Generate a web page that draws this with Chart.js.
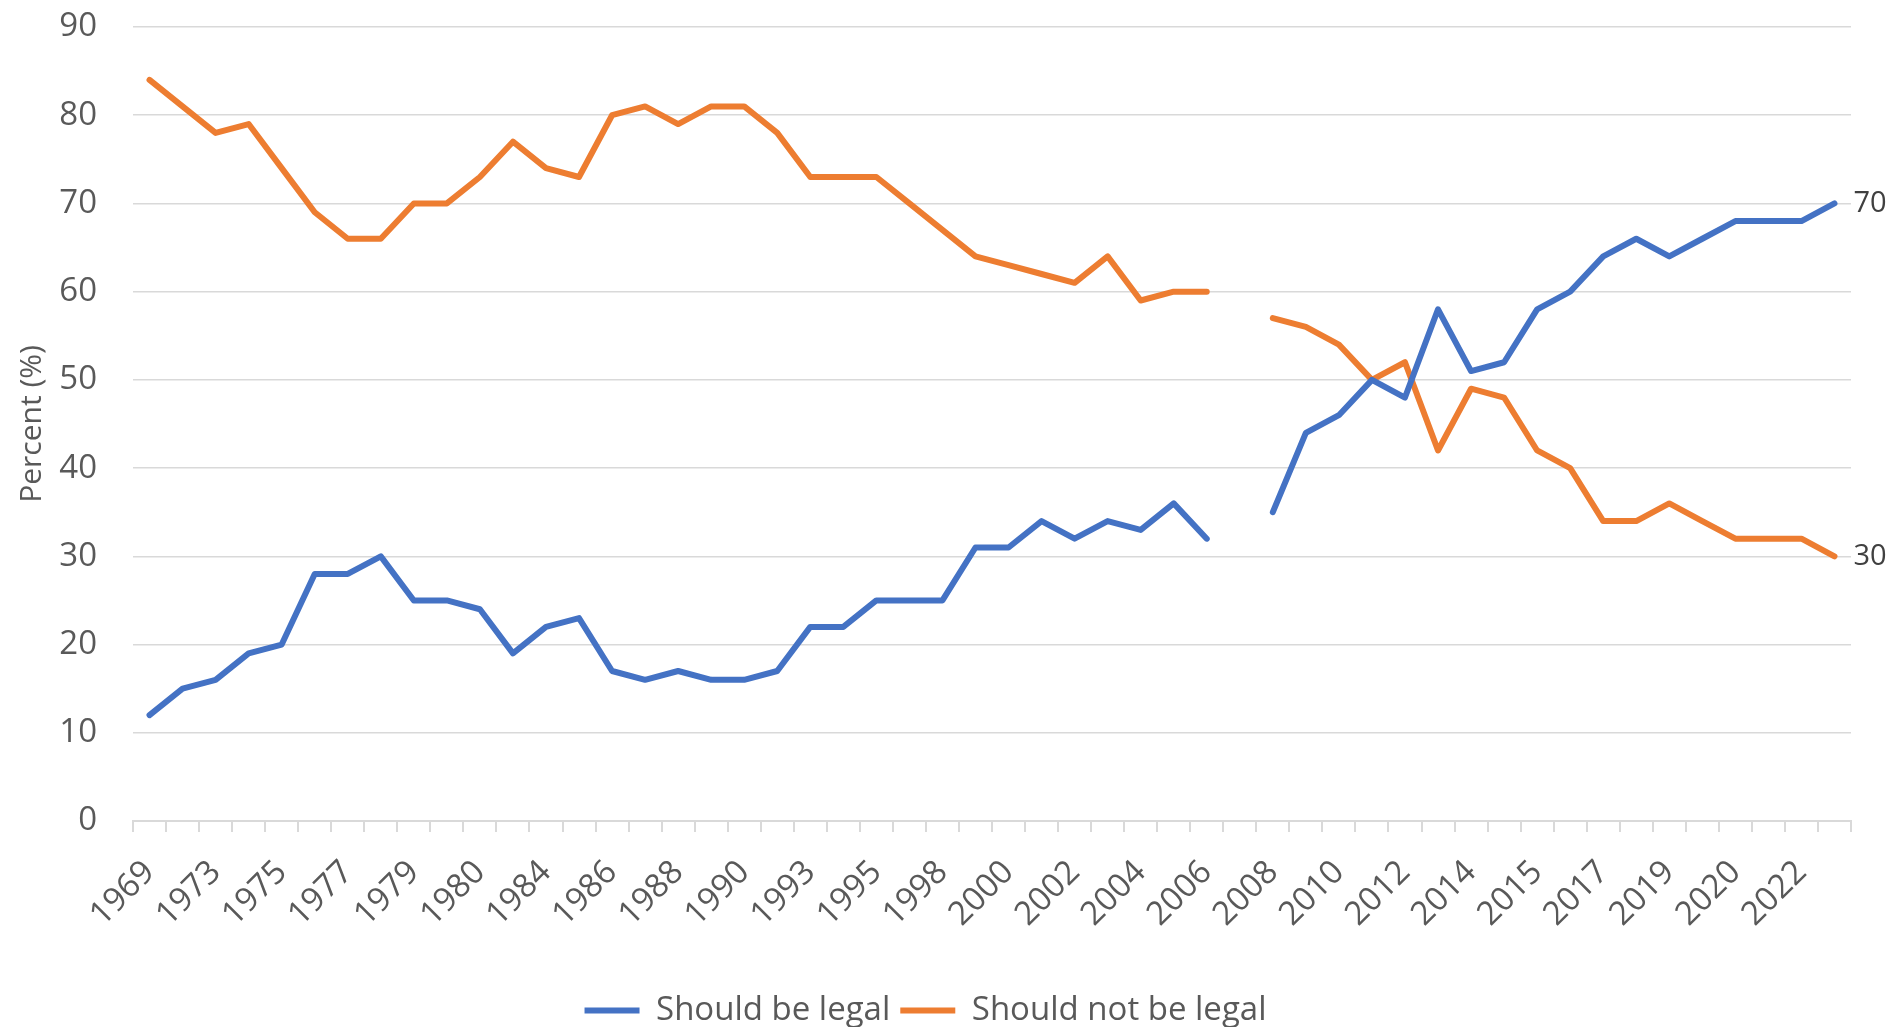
<!DOCTYPE html>
<html>
<head>
<meta charset="utf-8">
<script src="https://cdn.jsdelivr.net/npm/chart.js@4.4.1/dist/chart.umd.min.js"></script>
<style>
  html, body { margin: 0; padding: 0; background: #fff; overflow: hidden; }
  canvas { display: block; }
</style>
</head>
<body>
<canvas id="chart-legal" width="1895" height="1050"></canvas>
<script>
  // survey years (only every other one is labelled on the axis)
  var YEARS = [
    '1969', '1972', '1973', '1974', '1975', '1976', '1977', '1978', '1979', '1980',
    '1980', '1983', '1984', '1985', '1986', '1987', '1988', '1989', '1990', '1991',
    '1993', '1994', '1995', '1996', '1998', '1999', '2000', '2001', '2002', '2003',
    '2004', '2005', '2006', '2007', '2008', '2009', '2010', '2011', '2012', '2013',
    '2014', '2014', '2015', '2016', '2017', '2018', '2019', '2019', '2020', '2021',
    '2022', '2023'
  ];

  var SHOULD_BE_LEGAL = [
    12, 15, 16, 19, 20, 28, 28, 30, 25, 25,
    24, 19, 22, 23, 17, 16, 17, 16, 16, 17,
    22, 22, 25, 25, 25, 31, 31, 34, 32, 34,
    33, 36, 32, null, 35, 44, 46, 50, 48, 58,
    51, 52, 58, 60, 64, 66, 64, 66, 68, 68,
    68, 70
  ];

  var SHOULD_NOT_BE_LEGAL = [
    84, 81, 78, 79, 74, 69, 66, 66, 70, 70,
    73, 77, 74, 73, 80, 81, 79, 81, 81, 78,
    73, 73, 73, 70, 67, 64, 63, 62, 61, 64,
    59, 60, 60, null, 57, 56, 54, 50, 52, 42,
    49, 48, 42, 40, 34, 34, 36, 34, 32, 32,
    32, 30
  ];

  var BLUE = '#4472C4';
  var ORANGE = '#ED7D31';
  var GRID = '#D9D9D9';
  var TEXT = '#595959';
  var FONT = "'Open Sans', sans-serif";

  Chart.defaults.font.family = FONT;
  Chart.defaults.color = TEXT;

  // value written next to the last point of each line
  var endLabels = {
    id: 'endLabels',
    afterDatasetsDraw: function (chart) {
      var ctx = chart.ctx;
      ctx.save();
      ctx.font = '29px ' + FONT;
      ctx.fillStyle = '#404040';
      ctx.textBaseline = 'middle';
      ctx.textAlign = 'left';
      chart.data.datasets.forEach(function (ds, i) {
        var pts = chart.getDatasetMeta(i).data;
        var last = pts[pts.length - 1];
        ctx.fillText(String(ds.data[ds.data.length - 1]), last.x + 19, last.y);
      });
      ctx.restore();
    }
  };

  function lineSet(label, data, color) {
    return {
      label: label,
      data: data,
      borderColor: color,
      backgroundColor: color,
      borderWidth: 6,
      borderCapStyle: 'round',
      borderJoinStyle: 'round',
      pointRadius: 0,
      pointHoverRadius: 0,
      tension: 0,
      spanGaps: false
    };
  }

  new Chart(document.getElementById('chart-legal').getContext('2d'), {
    type: 'line',
    data: {
      labels: YEARS,
      datasets: [
        lineSet('Should be legal', SHOULD_BE_LEGAL, BLUE),
        lineSet('Should not be legal', SHOULD_NOT_BE_LEGAL, ORANGE)
      ]
    },
    plugins: [endLabels],
    options: {
      responsive: false,
      animation: false,
      layout: { padding: { top: 27, right: 44, bottom: 13, left: 0 } },
      plugins: {
        tooltip: { enabled: false },
        legend: {
          display: true,
          position: 'bottom',
          labels: {
            font: { size: 33 },
            color: TEXT,
            boxWidth: 55,
            boxHeight: 6,
            padding: 10,
            generateLabels: function (chart) {
              return Chart.defaults.plugins.legend.labels.generateLabels(chart).map(function (item) {
                item.lineWidth = 0;
                return item;
              });
            }
          }
        }
      },
      scales: {
        x: {
          type: 'category',
          offset: true,
          grid: { offset: true, drawOnChartArea: false, drawTicks: true, tickLength: 11, color: GRID, lineWidth: 2 },
          border: { display: true, color: GRID, width: 2 },
          ticks: {
            autoSkip: false,
            maxRotation: 45,
            minRotation: 45,
            padding: 21,
            font: { size: 33 },
            color: TEXT,
            callback: function (val, idx) { return idx % 2 === 0 ? this.getLabelForValue(val) : ''; }
          },
          afterFit: function (scale) {
            scale.height = 163;
            scale.paddingLeft = 0;
            scale.paddingRight = 0;
          }
        },
        y: {
          min: 0,
          max: 90,
          // invisible tick marks keep the labels away from the plot
          grid: { color: GRID, lineWidth: 1.5, drawTicks: true, tickLength: 36, tickColor: 'rgba(0,0,0,0)' },
          border: { display: false },
          ticks: { stepSize: 10, padding: 0, font: { size: 33 }, color: TEXT },
          title: { display: true, text: 'Percent (%)', font: { size: 30 }, color: TEXT, padding: { top: 14, bottom: 0 } },
          afterFit: function (scale) { scale.width = 133; }
        }
      }
    }
  });
</script>
</body>
</html>
